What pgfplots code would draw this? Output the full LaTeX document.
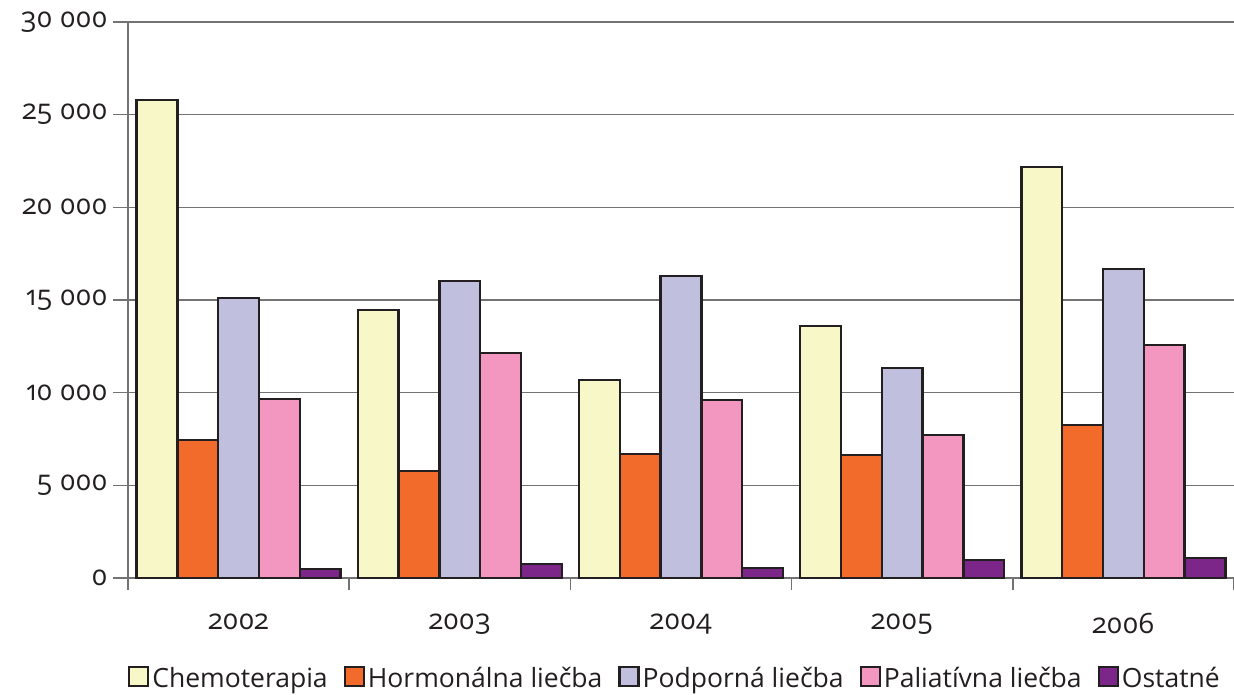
\documentclass[border=0pt]{standalone}
\usepackage{pgfplots}
\pgfplotsset{compat=1.18}
\usepackage{fontspec}
\setmainfont{Open Sans}[Numbers=OldStyle]
\definecolor{cChemo}{HTML}{F8F7C8}
\definecolor{cHorm}{HTML}{F26B2B}
\definecolor{cPodp}{HTML}{C0BFDE}
\definecolor{cPal}{HTML}{F396C0}
\definecolor{cOst}{HTML}{7C2689}
\definecolor{cText}{HTML}{231F20}
\definecolor{cEdge}{HTML}{231F20}
\begin{document}
\begin{tikzpicture}[font=\fontsize{27}{32}\selectfont, text=cText]
\useasboundingbox (-128pt,-117pt) rectangle (1106pt,578pt);
\begin{axis}[
  at={(0pt,0pt)}, anchor=south west,
  scale only axis, width=1106pt, height=556pt,
  xmin=-0.5, xmax=4.5, ymin=0, ymax=30000,
  ybar=0pt, bar width=0.1845,
  clip=false,
  axis x line*=bottom, axis y line*=left,
  axis line style={draw=gray!90!black, line width=1.5pt},
  xtick={0,1,2,3,4},
  xticklabels={2002,2003,2004,2005,2006},
  minor xtick={-0.5,0.5,1.5,2.5,3.5,4.5},
  major x tick style={draw=none},
  minor tick length=12pt,
  minor x tick style={draw=gray!90!black, line width=1.5pt},
  ytick={0,5000,10000,15000,20000,25000,30000},
  major tick length=15pt,
  tick align=outside,
  ytick style={draw=gray!90!black, line width=1.5pt},
  ymajorgrids,
  major grid style={draw=gray!90!black, line width=1.5pt},
  scaled y ticks=false,
  /pgf/number format/.cd, 1000 sep={\ }, assume math mode=true,
  /pgfplots/.cd,
  yticklabel style={xshift=-2pt},
  xticklabel style={yshift=-17pt},
  tick label style={font=\fontsize{28}{33}\selectfont, text=cText},
  legend columns=-1,
  legend style={at={(0.495,-0.18)}, anchor=center, draw=none, fill=none,
    font=\fontsize{26.5}{31}\selectfont, text=cText,
    /tikz/every even column/.append style={column sep=13pt},
    nodes={inner sep=3pt}},
  legend image code/.code={\draw[#1, line width=2.2pt] (0pt,-8pt) rectangle (19pt,11pt);},
  every axis plot/.append style={draw=cEdge, line width=2.4pt},
]
\addplot[fill=cChemo] coordinates {(0,25800) (1,14460) (2,10690) (3,13600) (4,22180)};
\addplot[fill=cHorm] coordinates {(0,7450) (1,5770) (2,6690) (3,6640) (4,8260)};
\addplot[fill=cPodp] coordinates {(0,15110) (1,16030) (2,16300) (3,11330) (4,16680)};
\addplot[fill=cPal] coordinates {(0,9660) (1,12140) (2,9600) (3,7720) (4,12570)};
\addplot[fill=cOst] coordinates {(0,490) (1,760) (2,540) (3,970) (4,1080)};
\legend{Chemoterapia, Hormonálna liečba, Podporná liečba, Paliatívna liečba, Ostatné}
\end{axis}
\end{tikzpicture}
\end{document}
